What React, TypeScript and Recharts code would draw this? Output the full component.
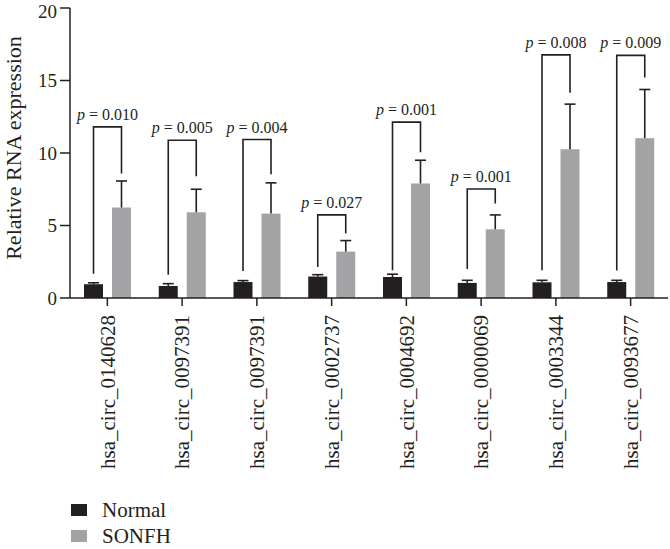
import React from "react";
import { Bar, BarChart, Legend, XAxis, YAxis } from "recharts";

const categories = [
  "hsa_circ_0140628",
  "hsa_circ_0097391",
  "hsa_circ_0097391",
  "hsa_circ_0002737",
  "hsa_circ_0004692",
  "hsa_circ_0000069",
  "hsa_circ_0003344",
  "hsa_circ_0093677",
];

const normalMean = [0.95, 0.83, 1.1, 1.48, 1.45, 1.04, 1.08, 1.1];
const normalErr = [0.1, 0.16, 0.1, 0.13, 0.19, 0.18, 0.14, 0.12];
const sonfhMean = [6.24, 5.91, 5.82, 3.2, 7.9, 4.74, 10.26, 11.02];
const sonfhErr = [1.83, 1.59, 2.12, 0.76, 1.6, 0.99, 3.11, 3.36];

// brackets: top line, left leg end, right leg end (in y units)
const bracketTop = [11.8, 10.88, 10.93, 5.73, 12.13, 7.52, 16.77, 16.73];
const bracketLeftEnd = [1.68, 1.6, 1.86, 2.14, 1.91, 2.0, 1.91, 1.9];
const bracketRightEnd = [8.58, 8.4, 8.54, 4.44, 10.06, 6.51, 14.15, 15.21];
const pValues = ["0.010", "0.005", "0.004", "0.027", "0.001", "0.001", "0.008", "0.009"];

const yTicks = [0, 5, 10, 15, 20];

const INK = "#231f20";
const GRAY = "#a3a3a6";
const FONT = "'Liberation Serif', 'DejaVu Serif', serif";
const BAR_SIZE = 19;
const BAR_GAP = 9;
const CAP = 11;

const data = categories.map((name, i) => ({
  name,
  normal: normalMean[i],
  normalErr: normalErr[i],
  sonfh: sonfhMean[i],
  sonfhErr: sonfhErr[i],
  top: bracketTop[i],
  leftEnd: bracketLeftEnd[i],
  rightEnd: bracketRightEnd[i],
  p: pValues[i],
}));

type ShapeProps = {
  x?: number;
  y?: number;
  width?: number;
  height?: number;
  fill?: string;
  payload?: any;
};

function Whisker({ cx, y, len }: { cx: number; y: number; len: number }) {
  return (
    <g stroke={INK} strokeWidth={1.6}>
      <line x1={cx} y1={y} x2={cx} y2={y - len} />
      <line x1={cx - CAP / 2} y1={y - len} x2={cx + CAP / 2} y2={y - len} />
    </g>
  );
}

function NormalShape(props: ShapeProps) {
  const { x = 0, y = 0, width = 0, height = 0, fill, payload } = props;
  const ppu = height / payload.normal;
  return (
    <g>
      <rect x={x} y={y} width={width} height={height} fill={fill} />
      <Whisker cx={x + width / 2} y={y} len={payload.normalErr * ppu} />
    </g>
  );
}

// gray bar + its whisker, plus the significance bracket back to the black bar
function SonfhShape(props: ShapeProps) {
  const { x = 0, y = 0, width = 0, height = 0, fill, payload } = props;
  const ppu = height / payload.sonfh;
  const base = y + height;
  const rightX = x + width / 2;
  const leftX = rightX - (width + BAR_GAP);
  const topY = base - payload.top * ppu;
  const midX = (leftX + rightX) / 2;
  return (
    <g>
      <rect x={x} y={y} width={width} height={height} fill={fill} />
      <Whisker cx={rightX} y={y} len={payload.sonfhErr * ppu} />
      <polyline
        points={`${leftX},${base - payload.leftEnd * ppu} ${leftX},${topY} ${rightX},${topY} ${rightX},${base - payload.rightEnd * ppu}`}
        fill="none"
        stroke={INK}
        strokeWidth={1.6}
      />
      <text
        x={midX}
        y={topY - 7}
        textAnchor="middle"
        fontFamily={FONT}
        fontSize={16}
        fill={INK}
      >
        <tspan fontStyle="italic">p</tspan>
        {` = ${payload.p}`}
      </text>
    </g>
  );
}

function CategoryTick(props: any) {
  const { x, y, payload } = props;
  return (
    <text
      x={x}
      y={y}
      dy="0.34em"
      transform={`rotate(-90, ${x}, ${y})`}
      textAnchor="end"
      fontFamily={FONT}
      fontSize={21}
      fill={INK}
    >
      {payload.value}
    </text>
  );
}

function YLabel(props: any) {
  const vb = props.viewBox || { x: 0, y: 0, width: 0, height: 0 };
  const cx = vb.x + 21;
  const cy = vb.y + vb.height / 2 - 5;
  return (
    <text
      x={cx}
      y={cy}
      transform={`rotate(-90, ${cx}, ${cy})`}
      textAnchor="middle"
      fontFamily={FONT}
      fontSize={22}
      fill={INK}
    >
      Relative RNA expression
    </text>
  );
}

function LegendBox(props: any) {
  const items = props.payload || [];
  return (
    <div style={{ height: 52, paddingLeft: 71, boxSizing: "border-box" }}>
      {items.map((item: any) => (
        <div
          key={item.value}
          style={{ display: "flex", alignItems: "center", height: 26 }}
        >
          <span
            style={{
              display: "inline-block",
              width: 16,
              height: 12,
              background: item.color,
              marginRight: 15,
            }}
          />
          <span
            style={{ fontFamily: FONT, fontSize: 21, lineHeight: "21px", color: INK }}
          >
            {item.value}
          </span>
        </div>
      ))}
    </div>
  );
}

export default function App() {
  return (
    <div style={{ position: "absolute", left: 0, top: 0, background: "#fff" }}>
      <BarChart
        width={670}
        height={549}
        data={data}
        margin={{ top: 8, right: 2, bottom: 0, left: 0 }}
        barSize={BAR_SIZE}
        barGap={BAR_GAP}
      >
        <XAxis
          dataKey="name"
          interval={0}
          height={199}
          tick={<CategoryTick />}
          tickSize={8}
          tickMargin={9}
          tickLine={{ stroke: INK, strokeWidth: 1.5 }}
          axisLine={{ stroke: INK, strokeWidth: 1.5 }}
        />
        <YAxis
          domain={[0, 20]}
          ticks={yTicks}
          width={70}
          tickSize={10}
          tickMargin={3}
          tick={{ fill: INK, fontSize: 19, fontFamily: FONT }}
          tickLine={{ stroke: INK, strokeWidth: 1.5 }}
          axisLine={{ stroke: INK, strokeWidth: 1.5 }}
          label={<YLabel />}
        />
        <Legend
          verticalAlign="bottom"
          align="left"
          content={<LegendBox />}
        />
        <Bar
          dataKey="normal"
          name="Normal"
          fill={INK}
          shape={<NormalShape />}
          isAnimationActive={false}
        />
        <Bar
          dataKey="sonfh"
          name="SONFH"
          fill={GRAY}
          shape={<SonfhShape />}
          isAnimationActive={false}
        />
      </BarChart>
    </div>
  );
}
